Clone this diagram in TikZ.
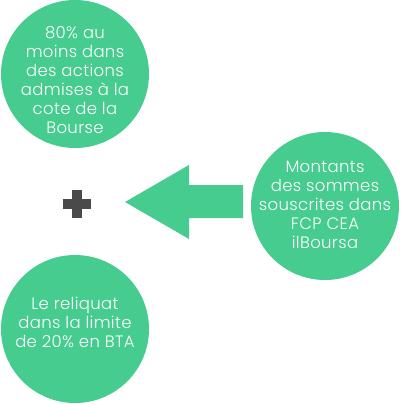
\documentclass[tikz,border=0pt]{standalone}
\usepackage{fontspec}
\setmainfont{Poppins}[UprightFont=* Light,LetterSpace=2]
\definecolor{vert}{HTML}{46CC8F}
\definecolor{gris}{HTML}{4A4A4A}
\begin{document}
\begin{tikzpicture}[x=1pt,y=-1pt,
  bulle/.style={circle,fill=vert,draw=none,minimum size=148pt,inner sep=0pt},
  texte/.style={align=center,text=white,font=\fontsize{16.5pt}{19pt}\selectfont,inner sep=0pt}]
\useasboundingbox (0,0) rectangle (400,404);
\node[bulle] (haut) at (75,74) {};
\node[texte] (thaut) at (75,80) {80\% au\\moins dans\\des actions\\admises à la\\cote de la\\Bourse};
\node[bulle] (bas) at (75,329) {};
\node[texte] (tbas) at (75,322) {Le reliquat\\dans la limite\\de 20\% en BTA};
\node[bulle] (droite) at (325,206) {};
\node[texte] (tdroite) at (325,205) {Montants\\des sommes\\souscrites dans\\FCP CEA\\ilBoursa};
\fill[vert] (125,202) -- (189,165) -- (189,185) -- (243,185) -- (243,218) -- (189,218) -- (189,239) -- cycle;
\fill[gris] (63,199) rectangle (91,209);
\fill[gris] (72,190) rectangle (82,218);
\end{tikzpicture}
\end{document}
